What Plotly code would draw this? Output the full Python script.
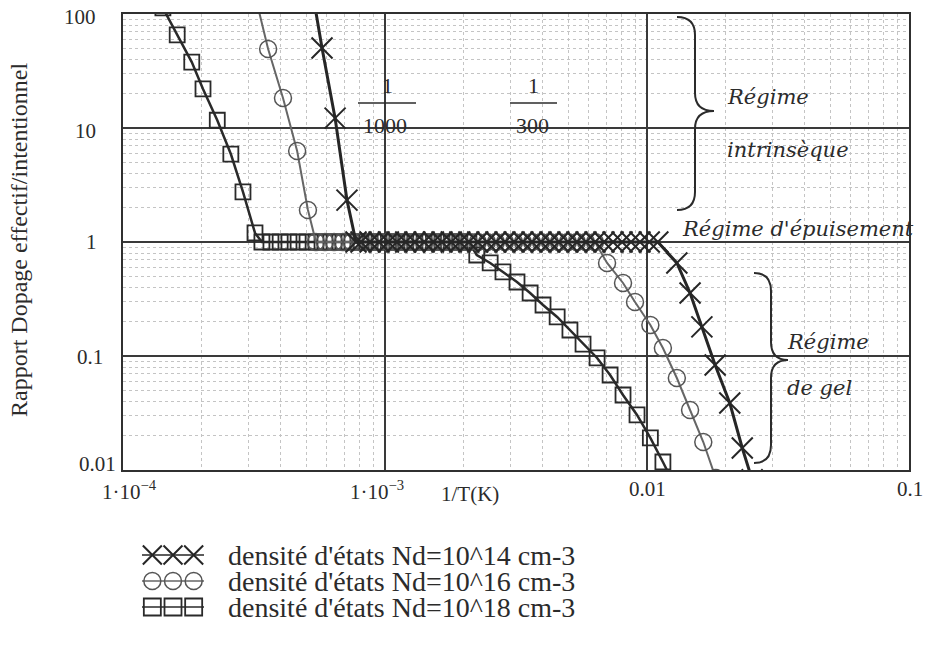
import plotly.graph_objects as go

W, H = 927, 648

# ---------------- data ----------------
# Nd = 1e14 (crosses)
x14_intr = [5.13e-4, 5.75e-4, 6.45e-4, 7.16e-4]
y14_intr = [233, 50.4, 12.2, 2.33]
x14_plat = [7.75e-4, 8.10e-4, 8.77e-4, 9.49e-4, 1.03e-3, 1.11e-3, 1.20e-3, 1.30e-3,
            1.41e-3, 1.53e-3, 1.65e-3, 1.79e-3, 1.93e-3, 2.09e-3, 2.26e-3, 2.45e-3,
            2.65e-3, 2.87e-3, 3.11e-3, 3.36e-3, 3.64e-3, 3.94e-3, 4.26e-3, 4.61e-3,
            4.99e-3, 5.40e-3, 5.85e-3, 6.33e-3, 6.85e-3, 7.42e-3, 8.03e-3, 8.69e-3,
            9.40e-3, 1.02e-2, 1.10e-2]
x14_gel = [1.30e-2, 1.46e-2, 1.62e-2, 1.82e-2, 2.07e-2, 2.31e-2, 2.52e-2]
y14_gel = [0.655, 0.357, 0.180, 0.0834, 0.0387, 0.0156, 0.0082]

# Nd = 1e16 (circles)
x16_intr = [3.19e-4, 3.58e-4, 4.08e-4, 4.62e-4, 5.08e-4]
y16_intr = [147, 49.3, 18.3, 6.28, 1.91]
x16_plat = [5.45e-4, 5.90e-4, 6.39e-4, 6.91e-4, 7.48e-4, 8.10e-4, 8.77e-4, 9.49e-4,
            1.03e-3, 1.11e-3, 1.20e-3, 1.30e-3, 1.41e-3, 1.53e-3, 1.65e-3, 1.79e-3,
            1.93e-3, 2.09e-3, 2.26e-3, 2.45e-3, 2.65e-3, 2.87e-3, 3.11e-3, 3.36e-3,
            3.64e-3, 3.94e-3, 4.26e-3, 4.61e-3, 4.99e-3, 5.40e-3, 5.85e-3, 6.33e-3]
x16_gel = [7.04e-3, 8.10e-3, 9.00e-3, 1.03e-2, 1.15e-2, 1.30e-2, 1.46e-2, 1.64e-2, 1.83e-2]
y16_gel = [0.655, 0.437, 0.298, 0.187, 0.1175, 0.0641, 0.0336, 0.0176, 0.0085]

# Nd = 1e18 (squares)
x18_intr = [1.42e-4, 1.61e-4, 1.83e-4, 2.02e-4, 2.29e-4, 2.58e-4, 2.87e-4, 3.19e-4]
y18_intr = [113, 65.5, 37.9, 22.0, 11.7, 5.91, 2.75, 1.20]
x18_plat = [3.39e-4, 3.67e-4, 3.98e-4, 4.30e-4, 4.66e-4, 5.04e-4, 5.45e-4, 5.90e-4,
            6.39e-4, 6.91e-4, 7.48e-4, 8.10e-4, 8.77e-4, 9.49e-4, 1.03e-3, 1.11e-3,
            1.20e-3, 1.30e-3, 1.41e-3, 1.53e-3, 1.65e-3, 1.79e-3, 1.93e-3, 2.09e-3]
x18_gel = [2.24e-3, 2.52e-3, 2.82e-3, 3.19e-3, 3.58e-3, 4.01e-3, 4.54e-3, 5.08e-3,
           5.70e-3, 6.45e-3, 7.23e-3, 8.10e-3, 9.16e-3, 1.03e-2, 1.15e-2, 1.29e-2]
y18_gel = [0.769, 0.655, 0.546, 0.446, 0.357, 0.280, 0.220, 0.169,
           0.127, 0.0961, 0.0681, 0.0455, 0.0304, 0.0191, 0.01175, 0.00695]

plateau_value = 1.0

legend_labels = ["densité d'états Nd=10^14 cm-3",
                 "densité d'états Nd=10^16 cm-3",
                 "densité d'états Nd=10^18 cm-3"]

y_tick_text = ["100", "10", "1", "0.1", "0.01"]

# ---------------- helpers ----------------
def series(xi, yi, xp, xg, yg):
    return xi + xp + xg, yi + [plateau_value] * len(xp) + yg

def px(x):
    return x / W

def py(y):
    return 1 - y / H

INK = "#2b2b2b"
SERIF = "Liberation Serif, Times New Roman, serif"
ITAL = "DejaVu Serif, serif"

styles = [
    dict(line=dict(color="#262626", width=3),
         marker=dict(symbol="x-thin-open", size=21, color="#262626",
                     line=dict(color="#262626", width=2))),
    dict(line=dict(color="#666666", width=2),
         marker=dict(symbol="circle-open", size=17, color="#555555",
                     line=dict(color="#555555", width=1.5))),
    dict(line=dict(color="#2a2a2a", width=2.5),
         marker=dict(symbol="square-open", size=15, color="#2a2a2a",
                     line=dict(color="#2a2a2a", width=1.8))),
]

data_sets = [
    series(x18_intr, y18_intr, x18_plat, x18_gel, y18_gel),
    series(x16_intr, y16_intr, x16_plat, x16_gel, y16_gel),
    series(x14_intr, y14_intr, x14_plat, x14_gel, y14_gel),
]
style_for = [styles[2], styles[1], styles[0]]

fig = go.Figure()
for (xs, ys), st in zip(data_sets, style_for):
    fig.add_trace(go.Scatter(x=xs, y=ys, mode="lines+markers",
                             line=st["line"], marker=st["marker"],
                             showlegend=False, hoverinfo="skip"))

# legend samples on a helper axis pair
leg_rows = [3, 2, 1]
for row, st in zip(leg_rows, styles):
    fig.add_trace(go.Scatter(x=[0, 1], y=[row, row], mode="lines",
                             line=dict(color=st["line"]["color"], width=1.5),
                             xaxis="x2", yaxis="y2", showlegend=False, hoverinfo="skip"))
    m = dict(st["marker"])
    m["size"] = 17 if m["symbol"] != "x-thin-open" else 19
    fig.add_trace(go.Scatter(x=[1/6, 0.5, 5/6], y=[row] * 3, mode="markers",
                             marker=m, xaxis="x2", yaxis="y2",
                             showlegend=False, hoverinfo="skip"))

minor_vals = [m * 10.0 ** e for e in range(-4, 2) for m in range(2, 10)]

axis_common = dict(type="log", dtick=1, tick0=0, showticklabels=False, ticks="",
                   showgrid=True, gridcolor="#3a3a3a", gridwidth=1.5,
                   showline=True, mirror=True, linecolor="#303030", linewidth=2,
                   zeroline=False,
                   minor=dict(tickvals=minor_vals, showgrid=True, gridcolor="#c4c4c4",
                              griddash="dot", gridwidth=1, ticks=""))

fig.update_layout(
    width=W, height=H,
    margin=dict(l=0, r=0, t=0, b=0),
    paper_bgcolor="white", plot_bgcolor="white",
    xaxis=dict(axis_common, range=[-4, -1], domain=[123 / W, 909 / W]),
    yaxis=dict(axis_common, range=[-2, 2], domain=[1 - 470 / H, 1 - 14 / H]),
    xaxis2=dict(domain=[142 / W, 204 / W], range=[0, 1], visible=False, anchor="y2"),
    yaxis2=dict(domain=[1 - 620 / H, 1 - 542 / H], range=[0.5, 3.5], visible=False, anchor="x2"),
)

ann = []
def text(x, y, s, size=20, font=SERIF, xanchor="center", angle=0, color=INK):
    ann.append(dict(x=px(x), y=py(y), xref="paper", yref="paper", text=s,
                    showarrow=False, xanchor=xanchor, yanchor="middle",
                    textangle=angle, font=dict(family=font, size=size, color=color)))

# y tick labels
for lab, xc, yc in zip(y_tick_text, [80, 85, 91, 90, 97], [17, 131, 242, 357, 464]):
    text(xc, yc, lab, size=21)
# x tick labels
text(129, 490, "1·10<sup>−4</sup>", size=21)
text(377, 490, "1·10<sup>−3</sup>", size=21)
text(647, 489, "0.01", size=21)
text(925, 489, "0.1", size=21, xanchor="right")
# axis titles
text(470, 494, "1/T(K)", size=21)
text(19, 240, "Rapport Dopage effectif/intentionnel", size=24, angle=-90)
# fractions
text(387, 85, "1", size=22)
text(385, 126, "1000", size=22)
text(533, 85, "1", size=22)
text(532, 126, "300", size=22)
# regime labels
text(725, 97, "<i>Régime</i>", size=21, font=ITAL, xanchor="left")
text(725, 150, "<i>intrinsèque</i>", size=21, font=ITAL, xanchor="left")
text(680, 229, "<i>Régime d'épuisement</i>", size=21, font=ITAL, xanchor="left")
text(785, 342, "<i>Régime</i>", size=21, font=ITAL, xanchor="left")
text(785, 388, "<i>de gel</i>", size=21, font=ITAL, xanchor="left")
# legend text
for lab, yc in zip(legend_labels, [555, 581, 607]):
    text(226, yc, lab, size=28, xanchor="left")

shapes = []
def pline(x0, y0, x1, y1, w=1.5):
    shapes.append(dict(type="line", xref="paper", yref="paper",
                       x0=px(x0), y0=py(y0), x1=px(x1), y1=py(y1),
                       line=dict(color=INK, width=w)))
pline(358, 103, 416, 103)
pline(510, 103, 557, 103)

def brace(xl, xm, xt, ytop, ytip, ybot, r=18):
    pts = [("M", xl, ytop), ("Q", xm, ytop, xm, ytop + r), ("L", xm, ytip - r),
           ("Q", xm, ytip, xt, ytip), ("Q", xm, ytip, xm, ytip + r),
           ("L", xm, ybot - r), ("Q", xm, ybot, xl, ybot)]
    s = ""
    for p in pts:
        cmd = p[0]
        coords = p[1:]
        seg = " ".join(f"{px(coords[i]):.5f},{py(coords[i + 1]):.5f}" for i in range(0, len(coords), 2))
        s += f"{cmd} {seg} "
    shapes.append(dict(type="path", xref="paper", yref="paper", path=s.strip(),
                       line=dict(color=INK, width=2)))

brace(677, 695, 714, 17, 111, 210)
brace(754, 771, 788, 273, 360, 463)

fig.update_layout(annotations=ann, shapes=shapes)
fig.write_html("out.html", config={"displayModeBar": False},
               post_script="document.body.style.margin='0px';document.body.style.overflow='hidden';")
